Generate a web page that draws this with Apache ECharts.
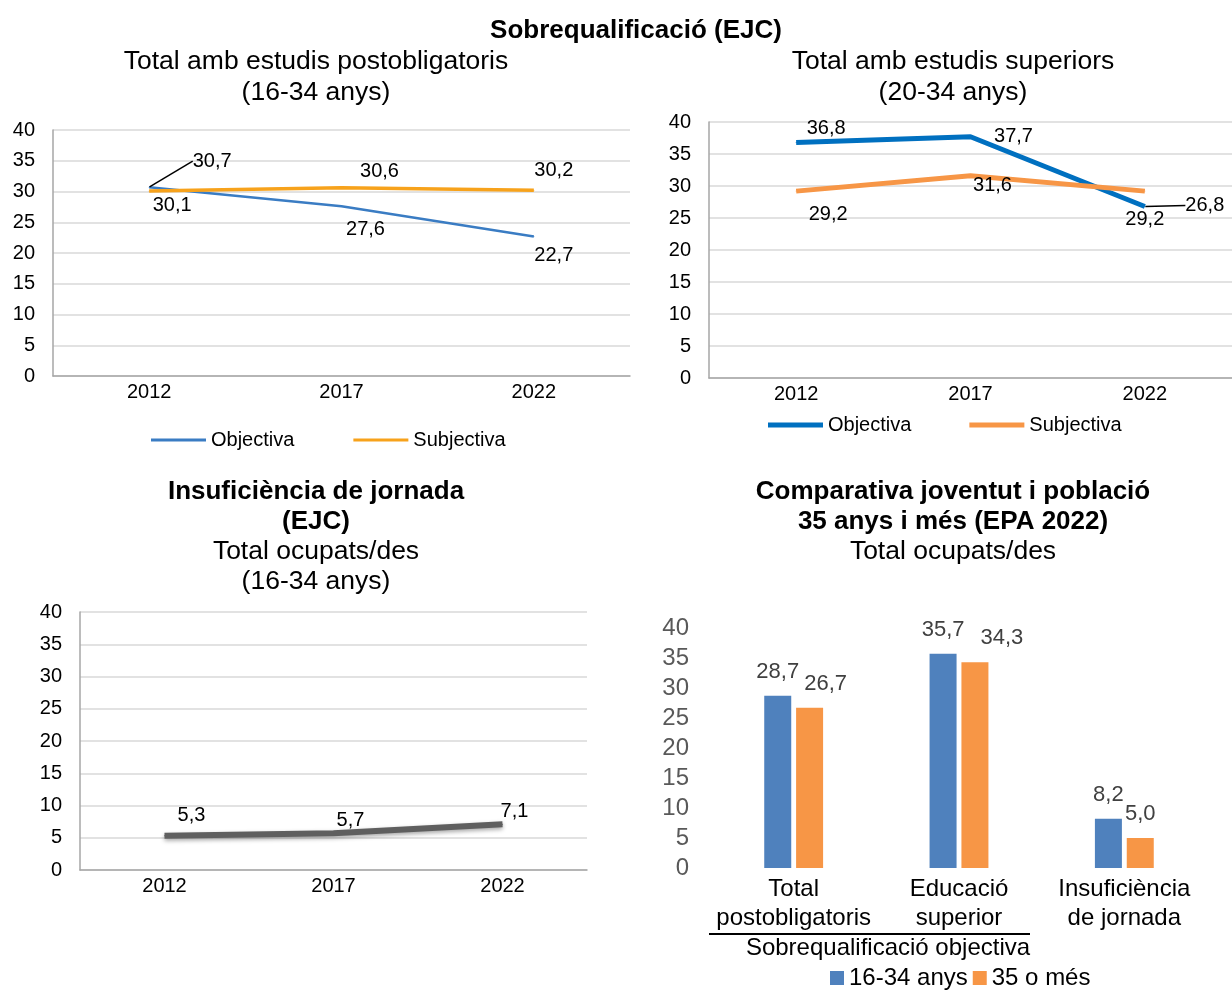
<!DOCTYPE html>
<html>
<head>
<meta charset="utf-8">
<script src="https://cdn.jsdelivr.net/npm/echarts@6/dist/echarts.min.js"></script>
<style>
  html, body { margin: 0; padding: 0; background: #fff; }
  #main { width: 1232px; height: 990px; }
</style>
</head>
<body>
<div id="main"></div>
<script>
// dades
var years = ['2012', '2017', '2022'];
var postObj = [30.7, 27.6, 22.7];
var postSubj = [30.1, 30.6, 30.2];
var supObj = [36.8, 37.7, 26.8];
var supSubj = [29.2, 31.6, 29.2];
var jornada = [5.3, 5.7, 7.1];
var compCats = ['Total\npostobligatoris', 'Educació\nsuperior', 'Insuficiència\nde jornada'];
var young = [28.7, 35.7, 8.2];
var older = [26.7, 34.3, 5.0];
var yTicks = [0, 5, 10, 15, 20, 25, 30, 35, 40];

var FF = '"Liberation Sans", Arial, sans-serif';

function fmt(p) {
	return p.value.toFixed(1).replace('.', ',');
}

// etiquetes centrades al punt; es mouen amb labelLayout
function withLabels(values, leaders) {
	return values.map(function (v, i) {
		var item = { value: v };
		if (leaders && leaders[i]) {
			item.labelLine = { show: true, lineStyle: { color: '#000', width: 1.5 } };
		}
		return item;
	});
}

// desplacament de cada etiqueta i linia guia (del punt a l'esquerra de l'etiqueta)
function moveLabels(offsets, leaders) {
	return function (p) {
		var off = offsets[p.dataIndex];
		var res = { dx: off[0], dy: off[1] };
		if (leaders && leaders[p.dataIndex]) {
			var sx = p.rect.x + p.rect.width / 2;
			var sy = p.rect.y + p.rect.height / 2;
			var lx = p.labelRect.x + off[0];
			var ly = p.labelRect.y + p.labelRect.height / 2 + off[1];
			res.labelLinePoints = [[sx + 2, sy - 2], [lx - 22, ly], [lx - 8, ly]];
		}
		return res;
	};
}

function lineAxisY(idx) {
	return {
		type: 'value', gridIndex: idx, min: yTicks[0], max: yTicks[yTicks.length - 1], interval: 5,
		axisLine: { show: true, lineStyle: { color: '#a6a6a6', width: 1.5 } },
		axisTick: { show: false },
		splitLine: { lineStyle: { color: '#d9d9d9', width: 1.5 } },
		axisLabel: { color: '#000', fontSize: 20, fontFamily: FF, margin: 18 }
	};
}

function lineAxisX(idx) {
	return {
		type: 'category', gridIndex: idx, data: years, boundaryGap: true,
		axisLine: { lineStyle: { color: '#a6a6a6', width: 1.5 } },
		axisTick: { show: false },
		axisLabel: { color: '#000', fontSize: 20, fontFamily: FF, margin: 6 }
	};
}

var labelBase = { show: true, position: 'inside', formatter: fmt, color: '#000', fontSize: 20, fontFamily: FF };
var barLabel = { show: true, position: 'top', distance: 13, formatter: fmt, color: '#404040', fontSize: 22, fontFamily: FF };

var titleStyle = { fontSize: 26.5, fontWeight: 'normal', color: '#000', fontFamily: FF, lineHeight: 31 };
var boldStyle = { fontSize: 26, fontWeight: 'bold', color: '#000', fontFamily: FF, lineHeight: 30 };
var subStyle = { fontSize: 26.5, color: '#000', fontFamily: FF, lineHeight: 30 };

var leaders1 = [true, false, false];
var leaders2 = [false, false, true];

var myChart = echarts.init(document.getElementById('main'));

var option = {
	backgroundColor: '#fff',
	animation: false,
	title: [
		{ text: 'Sobrequalificació (EJC)', left: 636, top: 16, textAlign: 'center', padding: 0, textStyle: boldStyle },
		{ text: 'Total amb estudis postobligatoris\n(16-34 anys)', left: 316, top: 46, textAlign: 'center', padding: 0, textStyle: titleStyle },
		{ text: 'Total amb estudis superiors\n(20-34 anys)', left: 953, top: 46, textAlign: 'center', padding: 0, textStyle: titleStyle },
		{ text: 'Insuficiència de jornada\n(EJC)', subtext: 'Total ocupats/des\n(16-34 anys)',
			left: 316, top: 477, textAlign: 'center', padding: 0, itemGap: 0, textStyle: boldStyle, subtextStyle: subStyle },
		{ text: 'Comparativa joventut i població\n35 anys i més (EPA 2022)', subtext: 'Total ocupats/des',
			left: 953, top: 477, textAlign: 'center', padding: 0, itemGap: 0, textStyle: boldStyle, subtextStyle: subStyle }
	],
	legend: [
		{ left: 151, top: 430, itemWidth: 55, itemHeight: 3, itemGap: 59, icon: 'rect', padding: 0,
			textStyle: { color: '#000', fontSize: 20, fontFamily: FF },
			data: [{ name: 'Objectiva', itemStyle: { color: '#3a7cc3' } }, { name: 'Subjectiva', itemStyle: { color: '#f7a21b' } }] },
		{ left: 768, top: 415, itemWidth: 55, itemHeight: 5, itemGap: 58, icon: 'rect', padding: 0,
			textStyle: { color: '#000', fontSize: 20, fontFamily: FF },
			data: [{ name: 'Objectiva', itemStyle: { color: '#0070c0' } }, { name: 'Subjectiva', itemStyle: { color: '#f79646' } }] },
		{ left: 830, top: 966, itemWidth: 14, itemHeight: 14, itemGap: 5, icon: 'rect', padding: 0,
			textStyle: { color: '#000', fontSize: 24, fontFamily: FF },
			data: ['16-34 anys', '35 o més'] }
	],
	grid: [
		{ left: 53, right: 602, top: 130, bottom: 614 },
		{ left: 709, right: 0, top: 122, bottom: 612 },
		{ left: 80, right: 645, top: 612, bottom: 120 },
		{ left: 711, right: 25, top: 628, bottom: 122 }
	],
	xAxis: [
		lineAxisX(0),
		lineAxisX(1),
		lineAxisX(2),
		{ type: 'category', gridIndex: 3, data: compCats,
			axisLine: { show: false }, axisTick: { show: false },
			axisLabel: { color: '#000', fontSize: 24, fontFamily: FF, margin: 7, lineHeight: 29, interval: 0 } }
	],
	yAxis: [
		lineAxisY(0),
		lineAxisY(1),
		lineAxisY(2),
		{ type: 'value', gridIndex: 3, min: 0, max: 40, interval: 5,
			axisLine: { show: false }, axisTick: { show: false }, splitLine: { show: false },
			axisLabel: { color: '#595959', fontSize: 24, fontFamily: FF, margin: 22 } }
	],
	series: [
		{ name: 'Objectiva', type: 'line', xAxisIndex: 0, yAxisIndex: 0,
			symbol: 'circle', symbolSize: 1, showSymbol: true,
			lineStyle: { color: '#3a7cc3', width: 2.5 }, itemStyle: { color: '#3a7cc3' },
			label: labelBase,
			labelLayout: moveLabels([[63, -26], [24, 23], [20, 19]], leaders1),
			data: withLabels(postObj, leaders1) },
		{ name: 'Subjectiva', type: 'line', xAxisIndex: 0, yAxisIndex: 0,
			symbol: 'circle', symbolSize: 1, showSymbol: true,
			lineStyle: { color: '#f7a21b', width: 3.5 }, itemStyle: { color: '#f7a21b' },
			label: labelBase,
			labelLayout: moveLabels([[23, 15], [38, -16], [20, -20]]),
			data: withLabels(postSubj) },
		{ name: 'Objectiva', type: 'line', xAxisIndex: 1, yAxisIndex: 1,
			symbol: 'circle', symbolSize: 1, showSymbol: true,
			lineStyle: { color: '#0070c0', width: 5 }, itemStyle: { color: '#0070c0' },
			label: labelBase,
			labelLayout: moveLabels([[30, -14], [43, 0], [60, -1]], leaders2),
			data: withLabels(supObj, leaders2) },
		{ name: 'Subjectiva', type: 'line', xAxisIndex: 1, yAxisIndex: 1,
			symbol: 'circle', symbolSize: 1, showSymbol: true,
			lineStyle: { color: '#f79646', width: 5 }, itemStyle: { color: '#f79646' },
			label: labelBase,
			labelLayout: moveLabels([[32, 23], [22, 10], [0, 28]]),
			data: withLabels(supSubj) },
		{ name: 'Insuficiència', type: 'line', xAxisIndex: 2, yAxisIndex: 2,
			symbol: 'circle', symbolSize: 1, showSymbol: true,
			lineStyle: { color: '#5f5f5f', width: 6, shadowColor: 'rgba(0,0,0,0.35)', shadowBlur: 4, shadowOffsetY: 2 },
			itemStyle: { color: '#5f5f5f' },
			label: labelBase,
			labelLayout: moveLabels([[27, -20], [17, -13], [12, -13]]),
			data: withLabels(jornada) },
		{ name: '16-34 anys', type: 'bar', xAxisIndex: 3, yAxisIndex: 3,
			barWidth: 27, barGap: '18%',
			itemStyle: { color: '#4f81bd' },
			label: barLabel,
			data: young },
		{ name: '35 o més', type: 'bar', xAxisIndex: 3, yAxisIndex: 3,
			barWidth: 27,
			itemStyle: { color: '#f79646' },
			label: barLabel,
			// etiquetes desplacades per no tocar-se amb les de la barra blava
			data: older.map(function (v, i) {
				return { value: v, label: { offset: [[16, 0], [27, 0], [0, 0]][i] } };
			}) }
	],
	graphic: [
		{ type: 'line', shape: { x1: 709, y1: 934, x2: 1030, y2: 934 }, style: { stroke: '#000', lineWidth: 2 } },
		{ type: 'text', x: 888, y: 948, style: { text: 'Sobrequalificació objectiva', align: 'center', verticalAlign: 'middle',
			fill: '#000', fontSize: 24, fontFamily: FF } }
	]
};

myChart.setOption(option);
</script>
</body>
</html>
